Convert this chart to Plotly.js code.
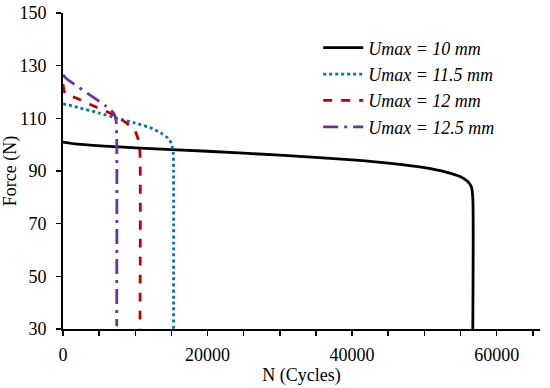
<!DOCTYPE html>
<html>
<head>
<meta charset="utf-8">
<script src="https://cdn.plot.ly/plotly-3.0.1.min.js"></script>
<style>html,body{margin:0;padding:0;background:#fff;}#chart{width:550px;height:388px;}</style>
</head>
<body>
<div id="chart"></div>
<script>
// Umax = 10 mm
const n10 = [0, 2000, 10000, 20000, 30000, 40000, 45000, 50000, 53000, 55000, 56000, 56500, 56700, 56700];
const f10 = [101, 100.2, 98.8, 97.5, 96, 94.2, 93, 91.3, 89.6, 87.8, 86, 84, 80, 30];
// Umax = 11.5 mm
const n115 = [0, 2000, 5000, 7500, 10000, 12000, 13500, 14500, 15000, 15250, 15300, 15300];
const f115 = [115.5, 114.2, 112, 110, 108.2, 106.5, 104.5, 102.5, 100.5, 97, 90, 30];
// Umax = 12 mm
const n12 = [0, 300, 2000, 4000, 6500, 8800, 10000, 10500, 10650, 10650];
const f12 = [123, 119.5, 117.5, 115, 112, 108.2, 105, 101, 97, 30];
// Umax = 12.5 mm
const n125 = [0, 500, 1000, 3500, 6000, 7000, 7350, 7430, 7430];
const f125 = [126.5, 125, 124, 119.3, 114.5, 112, 109, 104, 31];

const names = ["<i>Umax = 10 mm</i>", "<i>Umax = 11.5 mm</i>", "<i>Umax = 12 mm</i>", "<i>Umax = 12.5 mm</i>"];

const traces = [
  {x: n10, y: f10, name: names[0], mode: "lines", line: {color: "#000000", width: 2.8, dash: "solid", shape: "spline", smoothing: 0.6}},
  {x: n115, y: f115, name: names[1], mode: "lines", line: {color: "#0070C0", width: 2.8, dash: "dot", shape: "spline", smoothing: 0.6}},
  {x: n12, y: f12, name: names[2], mode: "lines", line: {color: "#C00000", width: 2.8, dash: "dash", shape: "spline", smoothing: 0.6}},
  {x: n125, y: f125, name: names[3], mode: "lines", line: {color: "#7030A0", width: 2.8, dash: "longdashdot", shape: "spline", smoothing: 0.6}}
];

const fam = "Liberation Serif, Times New Roman, serif";

const layout = {
  width: 550, height: 388,
  margin: {l: 63, r: 10, t: 13, b: 59},
  paper_bgcolor: "#fff", plot_bgcolor: "#fff",
  font: {family: fam, size: 17, color: "#000"},
  showlegend: true,
  legend: {x: 0.535, y: 0.948, xanchor: "left", yanchor: "top", bgcolor: "rgba(0,0,0,0)", font: {family: fam, size: 18, color: "#000"}, itemwidth: 40},
  xaxis: {
    range: [0, 66000], tickmode: "linear", tick0: 0, dtick: 20000, tickformat: "d",
    ticks: "outside", ticklen: 5, tickwidth: 1.5, tickcolor: "#000",
    minor: {dtick: 5000, ticks: "outside", ticklen: 5, tickwidth: 1.5, tickcolor: "#000", showgrid: false},
    showline: true, linecolor: "#000", linewidth: 2, showgrid: false, zeroline: false,
    tickfont: {family: fam, size: 18, color: "#000"}, ticklabelstandoff: 3,
    title: {text: "N (Cycles)", font: {family: fam, size: 18, color: "#000"}, standoff: 0}
  },
  yaxis: {
    range: [30, 150], tickmode: "linear", tick0: 30, dtick: 20,
    ticks: "outside", ticklen: 5, tickwidth: 1.5, tickcolor: "#000",
    showline: true, linecolor: "#000", linewidth: 2, showgrid: false, zeroline: false,
    tickfont: {family: fam, size: 18, color: "#000"}, ticklabelstandoff: 6,
    title: {text: "Force (N)", font: {family: fam, size: 18, color: "#000"}, standoff: 2}
  }
};

Plotly.newPlot("chart", traces, layout, {displayModeBar: false, staticPlot: true});
</script>
</body>
</html>
